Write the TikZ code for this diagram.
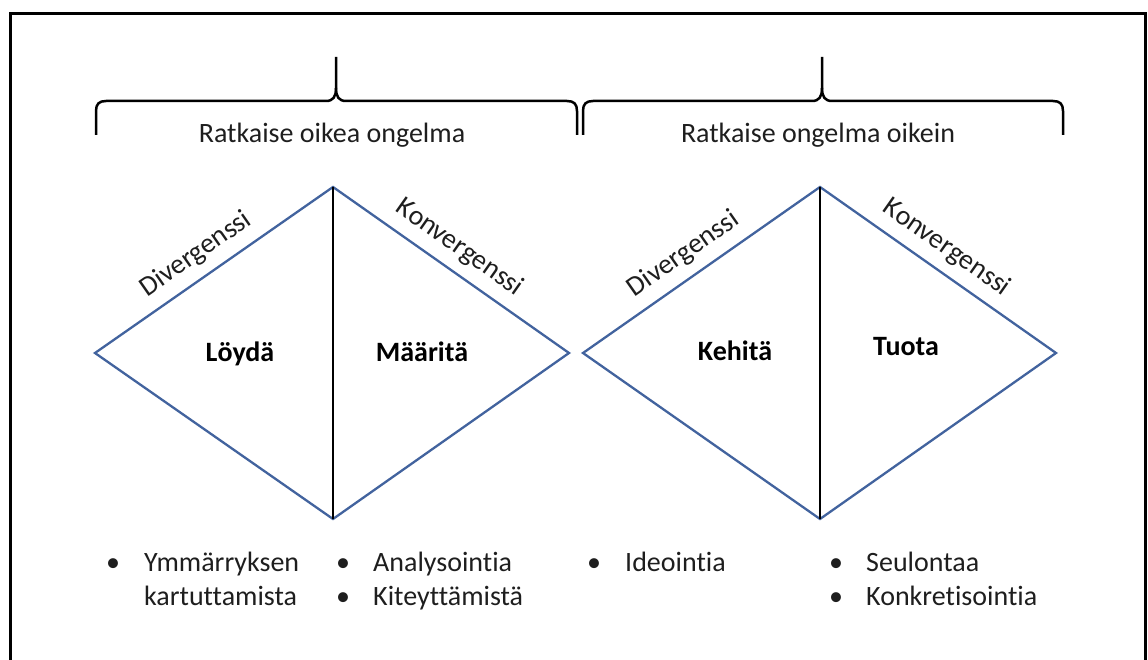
\documentclass[tikz,border=0pt]{standalone}
\usepackage{fontspec}
\setmainfont[Ligatures={NoCommon}]{Carlito}
\definecolor{edgeblue}{RGB}{66,99,158}
\definecolor{inkgray}{RGB}{30,30,30}
\begin{document}
\begin{tikzpicture}[x=1pt,y=-1pt,
  txt/.style={font=\fontsize{28}{34}\selectfont, text=inkgray, inner sep=0pt},
  boldlabel/.style={font=\fontsize{28}{33}\selectfont\bfseries, text=black, inner sep=0pt, anchor=base},
  edge/.style={draw=edgeblue, line width=2.3pt, line join=miter},
  axisline/.style={draw=black, line width=2.6pt},
  brace/.style={draw=black, line width=2.5pt},
  slopelabel/.style={txt, sloped, anchor=south, outer ysep=11pt, pos=0.48},
  bulletdot/.style={txt, anchor=base},
  itemtext/.style={txt, anchor=base west}]
\useasboundingbox (0,0) rectangle (1148,660);

% outer frame (open at the bottom edge of the page)
\draw[line width=3pt] (10,664) -- (10,14) -- (1145,14) -- (1145,664);

% curly braces over the two phases
\draw[brace] (96,135) -- (96,111) .. controls (96,104) and (99,101) .. (106,101) -- (326,101)
  .. controls (333,101) and (336,97) .. (336,88) -- (336,57);
\draw[brace] (336,88) .. controls (336,97) and (339,101) .. (346,101) -- (567,101)
  .. controls (574,101) and (577,104) .. (577,111) -- (577,135);
\draw[brace] (583,135) -- (583,111) .. controls (583,104) and (586,101) .. (593,101) -- (812,101)
  .. controls (819,101) and (822,97) .. (822,88) -- (822,57);
\draw[brace] (822,88) .. controls (822,97) and (825,101) .. (832,101) -- (1053,101)
  .. controls (1060,101) and (1063,104) .. (1063,111) -- (1063,135);

\node[txt, anchor=base] (phaseA) at (332,143) {Ratkaise oikea ongelma};
\node[txt, anchor=base] (phaseB) at (818,143) {Ratkaise ongelma oikein};

% first diamond
\coordinate (L1) at (95,353);
\coordinate (T1) at (333,187);
\coordinate (R1) at (569,353);
\coordinate (B1) at (333,519);
\draw[edge] (L1) -- (T1) -- (R1) -- (B1) -- cycle;
\draw[axisline] (T1) -- (B1);
\path (L1) -- (T1) node[slopelabel] (div1) {Divergenssi};
\path (T1) -- (R1) node[slopelabel] (conv1) {Konvergenssi};

% second diamond
\coordinate (L2) at (583,353);
\coordinate (T2) at (820,187);
\coordinate (R2) at (1056,353);
\coordinate (B2) at (820,519);
\draw[edge] (L2) -- (T2) -- (R2) -- (B2) -- cycle;
\draw[axisline] (T2) -- (B2);
\path (L2) -- (T2) node[slopelabel] (div2) {Divergenssi};
\path (T2) -- (R2) node[slopelabel] (conv2) {Konvergenssi};

% stage names
\node[boldlabel] (loyda) at (240,361) {Löydä};
\node[boldlabel] (maarita) at (422,361) {Määritä};
\node[boldlabel] (kehita) at (735,360) {Kehitä};
\node[boldlabel] (tuota) at (906,355) {Tuota};

% activity lists
\node[bulletdot] (b1) at (113,571) {•};
\node[itemtext] (i1a) at (144,571) {Ymmärryksen};
\node[itemtext] (i1b) at (144,605) {kartuttamista};

\node[bulletdot] (b2) at (343,571) {•};
\node[itemtext] (i2a) at (373,571) {Analysointia};
\node[bulletdot] (b3) at (343,605) {•};
\node[itemtext] (i2b) at (373,605) {Kiteyttämistä};

\node[bulletdot] (b4) at (594,571) {•};
\node[itemtext] (i3a) at (625,571) {Ideointia};

\node[bulletdot] (b5) at (836,571) {•};
\node[itemtext] (i4a) at (866,571) {Seulontaa};
\node[bulletdot] (b6) at (836,605) {•};
\node[itemtext] (i4b) at (866,605) {Konkretisointia};
\end{tikzpicture}
\end{document}
